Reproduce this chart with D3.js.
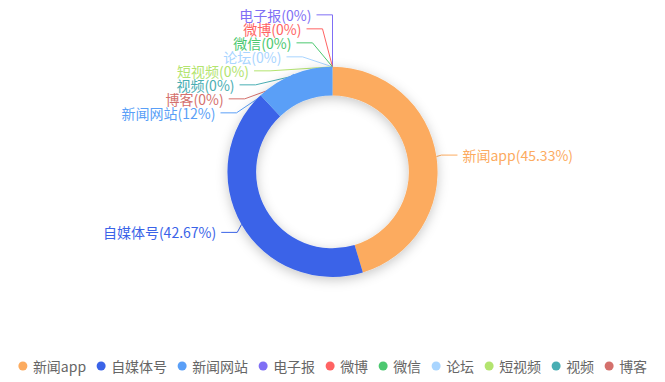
<!DOCTYPE html>
<html><head><meta charset="utf-8">
<script src="https://cdn.jsdelivr.net/npm/d3@7"></script>
<style>
html,body{margin:0;padding:0;background:#fff;}
svg{display:block;font-family:"Microsoft YaHei","Noto Sans CJK SC",sans-serif;}
</style>
</head><body>
<svg id="chart" width="665" height="382"></svg>
<script>
// ---- data ----
const categories = ['新闻app','自媒体号','新闻网站','电子报','微博','微信','论坛','短视频','视频','博客'];
const values = [34, 32, 9, 0, 0, 0, 0, 0, 0, 0];
const colors = ['#fcab5f','#3a63e8','#5a9ff7','#7f6ff5','#ff6363','#4cc870','#a9d5ff','#b3e46f','#49aeb3','#d4706c'];

// ---- layout constants ----
const W = 665, H = 382;
const cx = W * 0.5, cy = H * 0.45;
const base = Math.min(W, H) / 2;
const rOuter = base * 0.55, rInner = base * 0.40;
const lineLen = 10, lineLen2 = 16, labelDist = 5, labelH = 14;
const fontSize = 14;

const svg = d3.select('#chart');
const defs = svg.append('defs');
const f = defs.append('filter').attr('id','shadow').attr('x','-30%').attr('y','-30%').attr('width','160%').attr('height','160%');
f.append('feDropShadow').attr('dx',0).attr('dy',3).attr('stdDeviation',6)
  .attr('flood-color','#000').attr('flood-opacity',0.22);

const data = categories.map((c,i)=>({name:c, value:values[i], color:colors[i]}));
const total = d3.sum(values);
const pie = d3.pie().value(d=>d.value).sort(null).startAngle(0).endAngle(2*Math.PI);
const arcs = pie(data);
const arcGen = d3.arc().innerRadius(rInner).outerRadius(rOuter);

const fmtPct = v => String(+((v/total*100).toFixed(2)));

// ---- label layout (pie outer labels, avoid-overlap) ----
const items = arcs.map(a=>{
  const mid = (a.startAngle + a.endAngle)/2;
  const dx = Math.sin(mid), dy = -Math.cos(mid);
  const x1 = cx + rOuter*dx, y1 = cy + rOuter*dy;
  const x2 = cx + (rOuter+lineLen)*dx, y2 = cy + (rOuter+lineLen)*dy;
  const x3 = x2 + (dx < 0 ? -1 : 1)*lineLen2, y3 = y2;
  return {
    d:a.data, x: x3 + (dx<0 ? -labelDist : labelDist), y: y3, height: labelH,
    len: lineLen, len2: lineLen2,
    linePoints: [[x1,y1],[x2,y2],[x3,y3]],
    text: a.data.name + '(' + fmtPct(a.data.value) + '%)'
  };
});

function adjustSingleSide(list, dir){
  list.sort((a,b)=>a.y-b.y);
  const viewTop = 0, viewHeight = H;
  function shiftDown(start,end,delta){
    for(let j=start;j<end;j++){
      if(list[j].y + delta > viewTop + viewHeight) break;
      list[j].y += delta;
      if(j>start && j+1<end && list[j+1].y > list[j].y + list[j].height){ shiftUp(j, delta/2); return; }
    }
    shiftUp(end-1, delta/2);
  }
  function shiftUp(end, delta){
    for(let j=end;j>=0;j--){
      if(list[j].y - delta < viewTop) break;
      list[j].y -= delta;
      if(j>0 && list[j].y > list[j-1].y + list[j-1].height) break;
    }
  }
  function changeX(sub, isDown){
    let last = isDown ? Infinity : 0;
    for(const it of sub){
      const deltaY = Math.abs(it.y - cy);
      let deltaX = (deltaY < rOuter + it.len - 1e-6)
        ? Math.sqrt(Math.pow(rOuter+it.len+it.len2,2) - deltaY*deltaY)
        : Math.abs(it.x - cx);
      if(isDown && deltaX >= last) deltaX = last - 10;
      if(!isDown && deltaX <= last) deltaX = last + 10;
      it.x = cx + deltaX*dir;
      last = deltaX;
    }
  }
  let lastY = 0;
  for(let i=0;i<list.length;i++){
    const delta = list[i].y - lastY;
    if(delta < 0) shiftDown(i, list.length, -delta);
    lastY = list[i].y + list[i].height;
  }
  if(viewHeight - lastY < 0) shiftUp(list.length-1, lastY - viewHeight);
  const up = list.filter(d=>d.y < cy), down = list.filter(d=>d.y >= cy);
  changeX(up, false); changeX(down, true);
}
const left = items.filter(d=>d.x < cx), right = items.filter(d=>d.x >= cx);
adjustSingleSide(right, 1);
adjustSingleSide(left, -1);
items.forEach(it=>{
  const lp = it.linePoints;
  const dist = lp[1][0] - lp[2][0];
  lp[2][0] = it.x < cx ? it.x + labelDist : it.x - labelDist;
  lp[1][0] = lp[2][0] + dist;
  lp[1][1] = lp[2][1] = it.y;
});

// ---- draw label lines (under the ring) ----
svg.append('g').selectAll('polyline').data(items).join('polyline')
  .attr('points', d=>d.linePoints.map(p=>p.join(',')).join(' '))
  .attr('fill','none').attr('stroke', d=>d.d.color).attr('stroke-width',1);

// ---- ring ----
svg.append('g').attr('filter','url(#shadow)')
  .attr('transform',`translate(${cx},${cy})`)
  .selectAll('path').data(arcs.filter(a=>a.data.value>0)).join('path')
  .attr('d', arcGen).attr('fill', d=>d.data.color);

// ---- labels ----
svg.append('g').selectAll('text').data(items).join('text')
  .attr('x', d=>d.x).attr('y', d=>d.y)
  .attr('text-anchor', d=>d.x < cx ? 'end' : 'start')
  .attr('dominant-baseline','central')
  .attr('font-size', fontSize)
  .attr('fill', d=>d.d.color)
  .text(d=>d.text);

// ---- legend ----
const legendY = 366, iconW = 10, iconR = 4.5, iconGap = 5, itemGap = 10;
const lg = svg.append('g');
const li = lg.selectAll('g').data(data).join('g');
li.append('circle').attr('cx', iconW/2).attr('cy', 0).attr('r', iconR).attr('fill', d=>d.color);
li.append('text').attr('x', iconW + iconGap).attr('y', 0)
  .attr('dominant-baseline','central').attr('font-size', fontSize).attr('fill','#666')
  .text(d=>d.name);
let xs = [], acc = 0;
li.each(function(){ const w = this.querySelector('text').getComputedTextLength(); xs.push(acc); acc += iconW + iconGap + w + itemGap; });
const totalW = acc - itemGap;
const x0 = cx - totalW/2;
li.attr('transform', (d,i)=>`translate(${x0+xs[i]},${legendY})`);
</script>
</body></html>
